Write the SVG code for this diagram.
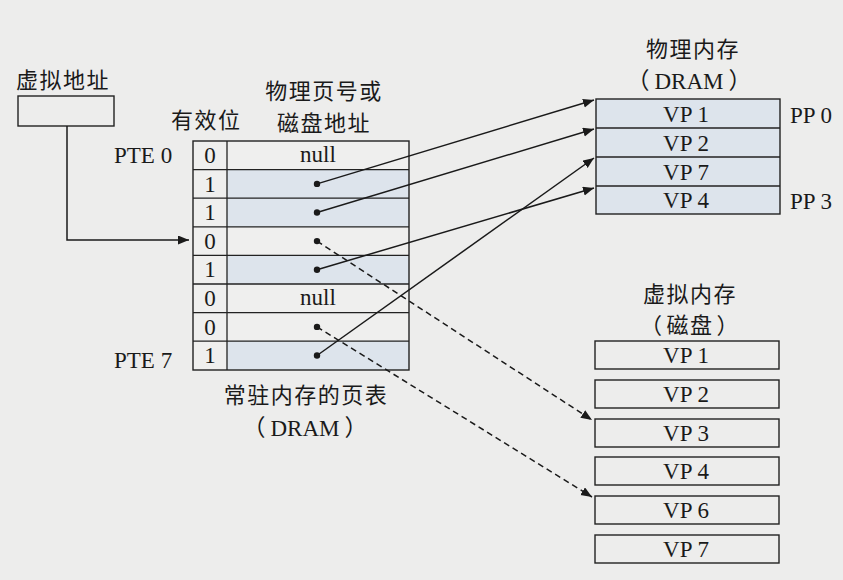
<svg xmlns="http://www.w3.org/2000/svg" width="843" height="580" viewBox="0 0 843 580">
<style>
.bg{fill:#ededec}
.cn{font-family:"Noto Sans CJK SC",sans-serif;font-size:22px;fill:#1a1a1a;letter-spacing:1.5px}
.lt{font-family:"Liberation Serif","Noto Sans CJK SC",serif;font-size:23px;fill:#1a1a1a}
.mid{text-anchor:middle}
.box{fill:none;stroke:#222;stroke-width:1.4}
.sh{fill:#dde4ec}
.pl{fill:#efefee}
.ln{stroke:#222;stroke-width:1.3;fill:none}
.con{stroke:#1a1a1a;stroke-width:1.5;fill:none}
.dash{stroke-dasharray:6 4}
.dot{fill:#1a1a1a}
</style>
<defs>
<marker id="ah" markerUnits="userSpaceOnUse" markerWidth="12" markerHeight="10" refX="11" refY="4.5" orient="auto">
<path d="M0,0 L11,4.5 L0,9 Z" fill="#1a1a1a"/>
</marker>
</defs>
<rect class="bg" x="0" y="0" width="843" height="580"/>

<g id="vaddr">
<text class="cn" x="16" y="88">虚拟地址</text>
<rect class="box" x="18" y="96" width="96" height="30" fill="#efefee"/>
</g>

<g id="pagetable">
<text class="cn" x="171" y="128">有效位</text>
<text class="cn mid" x="324" y="99">物理页号或</text>
<text class="cn mid" x="324" y="131">磁盘地址</text>
<text class="lt" x="114" y="163">PTE 0</text>
<text class="lt" x="114" y="368">PTE 7</text>
<rect class="pl" x="193" y="141" width="216" height="229"/>
<rect class="sh" x="227" y="169.6" width="182" height="57.2"/>
<rect class="sh" x="227" y="255.4" width="182" height="28.6"/>
<rect class="sh" x="227" y="341.2" width="182" height="28.6"/>
<rect class="box" x="193" y="141" width="216" height="229"/>
<line class="ln" x1="227" y1="141" x2="227" y2="370"/>
<line class="ln" x1="193" y1="169.6" x2="409" y2="169.6"/>
<line class="ln" x1="193" y1="198.2" x2="409" y2="198.2"/>
<line class="ln" x1="193" y1="226.8" x2="409" y2="226.8"/>
<line class="ln" x1="193" y1="255.4" x2="409" y2="255.4"/>
<line class="ln" x1="193" y1="284" x2="409" y2="284"/>
<line class="ln" x1="193" y1="312.6" x2="409" y2="312.6"/>
<line class="ln" x1="193" y1="341.2" x2="409" y2="341.2"/>
<text class="lt mid" x="210" y="163">0</text>
<text class="lt mid" x="210" y="192">1</text>
<text class="lt mid" x="210" y="220">1</text>
<text class="lt mid" x="210" y="249">0</text>
<text class="lt mid" x="210" y="277">1</text>
<text class="lt mid" x="210" y="306">0</text>
<text class="lt mid" x="210" y="335">0</text>
<text class="lt mid" x="210" y="363">1</text>
<text class="lt mid" x="318" y="162">null</text>
<text class="lt mid" x="318" y="305">null</text>
<circle class="dot" cx="317" cy="183.9" r="3.2"/>
<circle class="dot" cx="317" cy="212.5" r="3.2"/>
<circle class="dot" cx="317" cy="241.1" r="3.2"/>
<circle class="dot" cx="317" cy="269.7" r="3.2"/>
<circle class="dot" cx="317" cy="326.9" r="3.2"/>
<circle class="dot" cx="317" cy="355.5" r="3.2"/>
<text class="cn mid" x="306" y="403">常驻内存的页表</text>
<text class="lt mid" x="305" y="436">（<tspan dx="5">DRAM</tspan><tspan dx="5">）</tspan></text>
</g>

<g id="physmem">
<text class="cn mid" x="693" y="57">物理内存</text>
<text class="lt mid" x="689" y="89">（<tspan dx="5">DRAM</tspan><tspan dx="5">）</tspan></text>
<rect class="sh" x="596" y="99" width="184" height="115"/>
<rect class="box" x="596" y="99" width="184" height="115"/>
<line class="ln" x1="596" y1="128" x2="780" y2="128"/>
<line class="ln" x1="596" y1="157" x2="780" y2="157"/>
<line class="ln" x1="596" y1="186" x2="780" y2="186"/>
<text class="lt mid" x="686" y="122">VP 1</text>
<text class="lt mid" x="686" y="151">VP 2</text>
<text class="lt mid" x="686" y="180">VP 7</text>
<text class="lt mid" x="686" y="208">VP 4</text>
<text class="lt" x="790" y="123">PP 0</text>
<text class="lt" x="790" y="209">PP 3</text>
</g>

<g id="virtmem">
<text class="cn mid" x="690" y="302">虚拟内存</text>
<text class="cn mid" x="690" y="333">（<tspan dx="3">磁盘</tspan><tspan dx="3">）</tspan></text>
<rect class="box" x="595" y="341" width="184" height="28" fill="#efefee"/>
<rect class="box" x="595" y="380" width="184" height="28" fill="#efefee"/>
<rect class="box" x="595" y="419" width="184" height="28" fill="#efefee"/>
<rect class="box" x="595" y="457" width="184" height="28" fill="#efefee"/>
<rect class="box" x="595" y="496" width="184" height="28" fill="#efefee"/>
<rect class="box" x="595" y="535" width="184" height="28" fill="#efefee"/>
<text class="lt mid" x="686" y="363">VP 1</text>
<text class="lt mid" x="686" y="402">VP 2</text>
<text class="lt mid" x="686" y="441">VP 3</text>
<text class="lt mid" x="686" y="479">VP 4</text>
<text class="lt mid" x="686" y="518">VP 6</text>
<text class="lt mid" x="686" y="557">VP 7</text>
</g>

<g id="connectors">
<path class="con" d="M67,126 V240 H189" marker-end="url(#ah)"/>
<line class="con" x1="317" y1="183.9" x2="594" y2="100" marker-end="url(#ah)"/>
<line class="con" x1="317" y1="212.5" x2="594" y2="129" marker-end="url(#ah)"/>
<line class="con" x1="317" y1="269.7" x2="594" y2="188" marker-end="url(#ah)"/>
<line class="con" x1="317" y1="355.5" x2="594" y2="158" marker-end="url(#ah)"/>
<line class="con dash" x1="317" y1="241.1" x2="592" y2="420" marker-end="url(#ah)"/>
<line class="con dash" x1="317" y1="326.9" x2="592" y2="497" marker-end="url(#ah)"/>
</g>
</svg>
